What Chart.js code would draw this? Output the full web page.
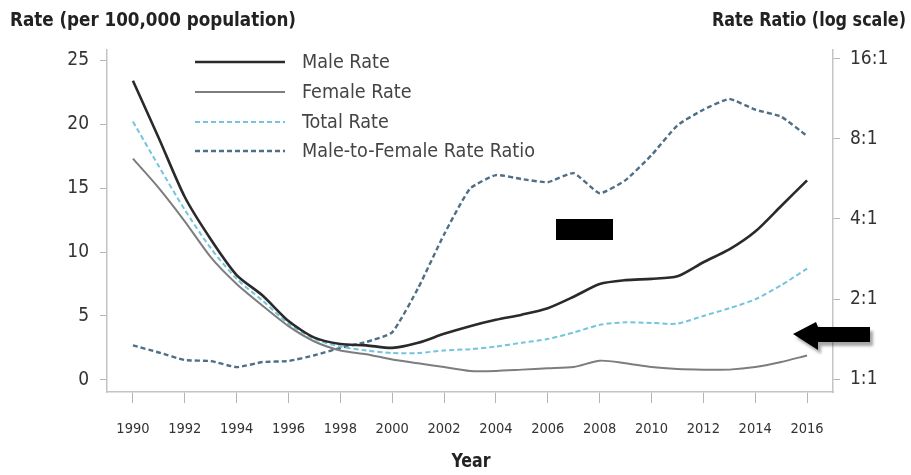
<!DOCTYPE html>
<html><head><meta charset="utf-8">
<script src="https://cdn.jsdelivr.net/npm/chart.js@4"></script>
<style>html,body{margin:0;padding:0;background:#fff}#wrap{width:911px;height:475px;position:relative}</style>
</head><body><div id="wrap"><canvas id="c"></canvas></div>
<script>
const years = [1990,1991,1992,1993,1994,1995,1996,1997,1998,1999,2000,2001,2002,2003,2004,2005,2006,2007,2008,2009,2010,2011,2012,2013,2014,2015,2016];
const maleRate   = [23.4,18.9,14.3,11.0,8.2,6.6,4.6,3.3,2.8,2.7,2.5,2.9,3.6,4.2,4.7,5.1,5.6,6.5,7.5,7.8,7.9,8.1,9.2,10.2,11.6,13.6,15.6];
const femaleRate = [17.3,15.0,12.4,9.6,7.5,5.8,4.2,3.0,2.3,2.0,1.6,1.3,1.0,0.7,0.7,0.8,0.9,1.0,1.5,1.3,1.0,0.85,0.8,0.8,1.0,1.4,1.9];
const totalRate  = [20.2,16.7,13.3,10.3,7.9,6.2,4.4,3.2,2.6,2.3,2.1,2.1,2.3,2.4,2.6,2.9,3.2,3.7,4.3,4.5,4.45,4.4,5.0,5.6,6.3,7.4,8.7];
const rateRatio  = [1.34,1.26,1.18,1.17,1.11,1.16,1.17,1.23,1.31,1.38,1.5,2.2,3.5,5.2,5.85,5.65,5.5,5.95,5.0,5.6,6.95,9.0,10.3,11.3,10.3,9.7,8.2];
const yearTicks  = [1990,1992,1994,1996,1998,2000,2002,2004,2006,2008,2010,2012,2014,2016];
const rateTicks  = [0,5,10,15,20,25];
const ratioTicks = [1,2,4,8,16];
const ratioTickLabels = ['1:1','2:1','4:1','8:1','16:1'];
const seriesNames = ['Male Rate','Female Rate','Total Rate','Male-to-Female Rate Ratio'];

const FONT = "'Liberation Sans Narrow','Arial Narrow','DejaVu Sans Condensed',sans-serif";

const pts = arr => years.map((y,i)=>({x:y,y:arr[i]}));

const overlay = {
  id:'overlay',
  afterDraw(chart){
    const ctx = chart.ctx;
    ctx.save();
    // axis titles
    ctx.fillStyle = '#222';
    ctx.font = 'bold 20px ' + FONT;
    ctx.textBaseline = 'middle';
    ctx.textAlign = 'left';
    ctx.fillText('Rate (per 100,000 population)', 10, 21, 286);
    ctx.textAlign = 'right';
    ctx.fillText('Rate Ratio (log scale)', 906, 21, 194);
    ctx.textAlign = 'center';
    ctx.fillText('Year', 471, 462, 39);
    // legend
    const ds = chart.data.datasets;
    const rows = [62, 92, 122, 151];
    ctx.font = '19.6px ' + FONT;
    ctx.textAlign = 'left';
    ds.forEach((d,i)=>{
      ctx.beginPath();
      ctx.strokeStyle = d.borderColor;
      ctx.lineWidth = d.borderWidth;
      ctx.setLineDash(d.borderDash || []);
      ctx.moveTo(195, rows[i]); ctx.lineTo(285, rows[i]);
      ctx.stroke();
      ctx.setLineDash([]);
      ctx.fillStyle = '#444';
      ctx.fillText(d.label, 302, rows[i]+1);
    });
    // redaction box and arrow annotations
    ctx.fillStyle = '#000';
    ctx.fillRect(556, 219, 57, 21);
    ctx.shadowColor = 'rgba(0,0,0,0.35)';
    ctx.shadowOffsetX = 3; ctx.shadowOffsetY = 4; ctx.shadowBlur = 3;
    ctx.beginPath();
    ctx.moveTo(793, 334);
    ctx.lineTo(816, 322);
    ctx.lineTo(818, 327);
    ctx.lineTo(870, 327);
    ctx.lineTo(870, 342);
    ctx.lineTo(818, 342);
    ctx.lineTo(818, 350);
    ctx.closePath();
    ctx.fill();
    ctx.restore();
  }
};

new Chart(document.getElementById('c'), {
  type:'line',
  data:{
    datasets:[
      {label:seriesNames[0], data:pts(maleRate), yAxisID:'y', borderColor:'#2a2a2a', borderWidth:2.6, tension:0.25, pointRadius:0},
      {label:seriesNames[1], data:pts(femaleRate), yAxisID:'y', borderColor:'#7d7d7d', borderWidth:2, tension:0.25, pointRadius:0},
      {label:seriesNames[2], data:pts(totalRate), yAxisID:'y', borderColor:'#74c4df', borderWidth:2, borderDash:[5,3], tension:0.25, pointRadius:0},
      {label:seriesNames[3], data:pts(rateRatio), yAxisID:'y1', borderColor:'#4e6f86', borderWidth:2.4, borderDash:[5,3], tension:0.15, pointRadius:0}
    ]
  },
  options:{
    responsive:true, maintainAspectRatio:false, animation:false,
    layout:{padding:{top:50,left:0,right:0,bottom:0}},
    plugins:{legend:{display:false}, tooltip:{enabled:false}},
    scales:{
      x:{
        type:'linear', min:1989, max:2017,
        afterBuildTicks:s=>{ s.ticks = yearTicks.map(v=>({value:v})); },
        afterFit:s=>{ s.height = 83; },
        grid:{drawOnChartArea:false, drawTicks:true, tickLength:11, color:'#b5b5b5'},
        border:{display:true, color:'#c4c4c4', width:1.5},
        ticks:{padding:18, color:'#333', font:{family:FONT, size:14.5}, maxRotation:0, autoSkip:false, callback:v=>String(v)}
      },
      y:{
        type:'linear', position:'left', min:-0.95, max:25.8,
        afterBuildTicks:s=>{ s.ticks = rateTicks.map(v=>({value:v})); },
        afterFit:s=>{ s.width = 107; },
        grid:{drawOnChartArea:false, drawTicks:true, tickLength:7, color:'#b5b5b5'},
        border:{display:true, color:'#c4c4c4', width:1.5},
        ticks:{padding:11, color:'#333', font:{family:FONT, size:19}, callback:v=>String(v)}
      },
      y1:{
        type:'logarithmic', position:'right', min:Math.pow(2,-0.16), max:Math.pow(2,4.11),
        afterBuildTicks:s=>{ s.ticks = ratioTicks.map(v=>({value:v})); },
        afterFit:s=>{ s.width = 78; },
        grid:{drawOnChartArea:false, drawTicks:true, tickLength:7, color:'#b5b5b5'},
        border:{display:true, color:'#c4c4c4', width:1.5},
        ticks:{padding:10, color:'#333', font:{family:FONT, size:19}, callback:(v)=>{const i=ratioTicks.indexOf(v); return i>=0?ratioTickLabels[i]:'';}}
      }
    }
  },
  plugins:[overlay]
});
</script>
</body></html>
